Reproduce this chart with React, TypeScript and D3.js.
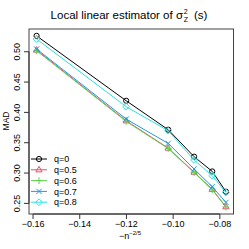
import React from "react";
import * as d3 from "d3";

const nValues = [100, 200, 300, 400, 500, 600];
const xValues = nValues.map((n) => -Math.pow(n, -0.4));
const seriesNames = ["q=0", "q=0.5", "q=0.6", "q=0.7", "q=0.8"];
const q0 = [0.5262, 0.4192, 0.3715, 0.327, 0.3027, 0.2693];
const q05 = [0.5028, 0.3862, 0.3412, 0.3015, 0.2732, 0.2445];
const q06 = [0.5016, 0.3852, 0.3404, 0.3008, 0.2724, 0.2438];
const q07 = [0.5045, 0.389, 0.3489, 0.3067, 0.2775, 0.2517];
const q08 = [0.521, 0.4094, 0.3698, 0.3215, 0.2957, 0.268];
const seriesValues = [q0, q05, q06, q07, q08];
const colors = ["#000000", "#DF536B", "#61D04F", "#2297E6", "#28E2E5"];
const shapes = ["circle", "triangle", "plus", "cross", "diamond"];
const xTicks = [-0.16, -0.14, -0.12, -0.1, -0.08];
const yTicks = [0.25, 0.3, 0.35, 0.4, 0.45, 0.5];

const W = 249, H = 249;
const L = 29, R = 233.5, T = 29, B = 214;
const font = "'Liberation Sans', Arial, Helvetica, sans-serif";

function Marker({ shape, x, y, color }: { shape: string; x: number; y: number; color: string }) {
  const s = 2.6;
  const common = { fill: "none", stroke: color, strokeWidth: 1 };
  if (shape === "circle") return <circle cx={x} cy={y} r={s} {...common} />;
  if (shape === "triangle")
    return <path d={`M${x},${y - s * 1.3}L${x + s * 1.2},${y + s * 0.8}L${x - s * 1.2},${y + s * 0.8}Z`} {...common} />;
  if (shape === "plus")
    return <path d={`M${x - s * 1.3},${y}H${x + s * 1.3}M${x},${y - s * 1.3}V${y + s * 1.3}`} {...common} />;
  if (shape === "cross")
    return <path d={`M${x - s},${y - s}L${x + s},${y + s}M${x - s},${y + s}L${x + s},${y - s}`} {...common} />;
  return <path d={`M${x},${y - s * 1.3}L${x + s * 1.3},${y}L${x},${y + s * 1.3}L${x - s * 1.3},${y}Z`} {...common} />;
}

export default function App() {
  const xExt = d3.extent(xValues) as [number, number];
  const allY = seriesValues.flat();
  const yExt = d3.extent(allY) as [number, number];
  const xr = xExt[1] - xExt[0];
  const yr = yExt[1] - yExt[0];
  const x = d3.scaleLinear().domain([xExt[0] - 0.04 * xr, xExt[1] + 0.04 * xr]).range([L, R]);
  const y = d3.scaleLinear().domain([yExt[0] - 0.04 * yr, yExt[1] + 0.04 * yr]).range([B, T]);
  const line = d3
    .line<number>()
    .x((_, i) => x(xValues[i]))
    .y((d) => y(d));
  const fmt = (v: number) => (v < 0 ? "\u2212" : "") + Math.abs(v).toFixed(2);
  const legendY = [159, 169.8, 180.6, 191.4, 202.2];

  return (
    <svg width={W} height={H} style={{ position: "absolute", left: 0, top: 0 }} fontFamily={font}>
      <rect x={0} y={0} width={W} height={H} fill="#fff" />
      {/* title */}
      <text x={183} y={19} fontSize={11.5} textAnchor="end" fill="#000">
        Local linear estimator of σ
      </text>
      <text x={183.8} y={13.8} fontSize={7} fill="#000">2</text>
      <text x={183.8} y={21.8} fontSize={7} fill="#000">Z</text>
      <text x={194} y={19} fontSize={11.5} fill="#000">(s)</text>

      {/* series */}
      {seriesValues.map((vals, si) => (
        <g key={si}>
          <path d={line(vals) || ""} fill="none" stroke={colors[si]} strokeWidth={1} />
          {vals.map((v, i) => (
            <Marker key={i} shape={shapes[si]} x={x(xValues[i])} y={y(v)} color={colors[si]} />
          ))}
        </g>
      ))}

      {/* box */}
      <rect x={L} y={T} width={R - L} height={B - T} fill="none" stroke="#444" strokeWidth={1} />

      {/* x axis */}
      <line x1={x(xTicks[0])} x2={x(xTicks[xTicks.length - 1])} y1={B} y2={B} stroke="#333" />
      {xTicks.map((t) => (
        <g key={t}>
          <line x1={x(t)} x2={x(t)} y1={B} y2={B + 5} stroke="#333" />
          <text x={x(t)} y={226.5} fontSize={9} textAnchor="middle" fill="#000">
            {fmt(t)}
          </text>
        </g>
      ))}
      <text x={130} y={239} fontSize={9} textAnchor="middle" fill="#000">
        {"\u2212n"}
        <tspan fontSize={6} dy={-4.5}>{"\u22122/5"}</tspan>
      </text>

      {/* y axis */}
      {yTicks.map((t) => (
        <g key={t}>
          <line x1={L - 5} x2={L} y1={y(t)} y2={y(t)} stroke="#333" />
          <text
            x={20.5}
            y={y(t)}
            fontSize={9}
            textAnchor="middle"
            transform={`rotate(-90 20.5 ${y(t)})`}
            fill="#000"
          >
            {t.toFixed(2)}
          </text>
        </g>
      ))}
      <line x1={L} x2={L} y1={y(yTicks[0])} y2={y(yTicks[yTicks.length - 1])} stroke="#333" />
      <text x={9} y={121} fontSize={8.5} textAnchor="middle" transform="rotate(-90 9 121)" fill="#000">
        MAD
      </text>

      {/* legend */}
      {seriesNames.map((name, i) => (
        <g key={name}>
          <line x1={31} x2={47} y1={legendY[i]} y2={legendY[i]} stroke={colors[i]} strokeWidth={1} />
          <Marker shape={shapes[i]} x={39} y={legendY[i]} color={colors[i]} />
          <text x={54} y={legendY[i] + 3.2} fontSize={9} fill="#000">
            {name}
          </text>
        </g>
      ))}
    </svg>
  );
}
